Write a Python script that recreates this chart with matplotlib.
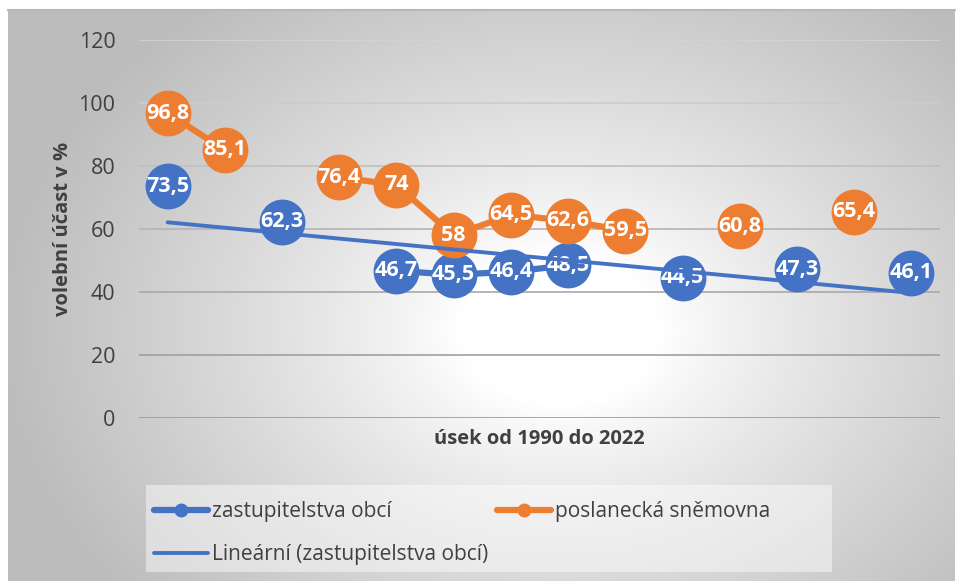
import numpy as np
import matplotlib
matplotlib.use("Agg")
import matplotlib.pyplot as plt
from matplotlib.lines import Line2D
from matplotlib.patches import Rectangle

# ---- data ----
positions = list(range(1, 15))
zastupitelstva = [73.5, None, 62.3, None, 46.7, 45.5, 46.4, 48.5, None, 44.5, None, 47.3, None, 46.1]
snemovna = [96.8, 85.1, None, 76.4, 74.0, 58.0, 64.5, 62.6, 59.5, None, 60.8, None, 65.4, None]
yticks = [0, 20, 40, 60, 80, 100, 120]
labels_blue = ["73,5", None, "62,3", None, "46,7", "45,5", "46,4", "48,5", None, "44,5", None, "47,3", None, "46,1"]
labels_orange = ["96,8", "85,1", None, "76,4", "74", "58", "64,5", "62,6", "59,5", None, "60,8", None, "65,4", None]
series_names = ["zastupitelstva obcí", "poslanecká sněmovna", "Lineární (zastupitelstva obcí)"]
xlabel = "úsek od 1990 do 2022"
ylabel = "volební účast v %"

BLUE = "#4472C4"
ORANGE = "#ED7D31"
TXT = "#404040"
FONT = ["Open Sans", "DejaVu Sans"]
plt.rcParams["font.family"] = FONT

W, H = 957, 581
fig = plt.figure(figsize=(W / 100, H / 100), dpi=100)
fig.patch.set_facecolor("white")

# ---- radial gradient background of chart area ----
bx0, by0, bx1, by1 = 8, 10, 955, 581
bg = fig.add_axes([bx0 / W, 1 - by1 / H, (bx1 - bx0) / W, (by1 - by0) / H])
bg.set_axis_off()
gx = np.linspace(bx0, bx1, 480)
gy = np.linspace(by0, by1, 300)
GX, GY = np.meshgrid(gx, gy)
cx, cy = 560, 330
r = np.sqrt(((GX - cx) / 560) ** 2 + ((GY - cy) / 420) ** 2)
v = 1.0 - 0.26 * np.clip((r - 0.18) / 0.82, 0, 1) ** 0.85
img = np.dstack([v, v, v])
bg.imshow(img, extent=[0, 1, 0, 1], aspect="auto", origin="upper")
bg.plot([0, 1], [1, 1], color="#b8b8b8", lw=1.5, transform=bg.transAxes, clip_on=False)

# ---- main axes ----
left, right, top, bottom = 139, 940, 40, 418
ax = fig.add_axes([left / W, 1 - bottom / H, (right - left) / W, (bottom - top) / H])
ax.patch.set_alpha(0)
ax.set_xlim(0.5, 14.5)
ax.set_ylim(0, 120)
for s in ax.spines.values():
    s.set_visible(False)
grid_cols = ["#999999", "#a0a0a0", "#a8a8a8", "#b4b4b4", "#c0c0c0", "#cccccc", "#d4d4d4"]
for yv, c in zip(yticks, grid_cols):
    ax.axhline(yv, color=c, lw=1.2, zorder=1)
ax.set_yticks(yticks)
ax.set_yticklabels([str(t) for t in yticks], fontsize=15.5, color=TXT)
ax.tick_params(axis="y", length=0, pad=17)
ax.set_xticks([])
ax.set_xlabel(xlabel, fontsize=14.5, fontweight="bold", color=TXT, labelpad=8)
ax.set_ylabel(ylabel, fontsize=14.5, fontweight="bold", color=TXT, labelpad=4)


def to_arr(vals):
    return np.array([np.nan if v is None else v for v in vals], dtype=float)


xs = np.array(positions, dtype=float)
yb = to_arr(zastupitelstva)
yo = to_arr(snemovna)

ax.plot(xs, yb, color=BLUE, lw=4.5, marker="o", markersize=32, zorder=3)
ax.plot(xs, yo, color=ORANGE, lw=4.5, marker="o", markersize=32, zorder=4)

for x, y, l in zip(xs, yb, labels_blue):
    if l is not None:
        ax.text(x, y, l, ha="center", va="center", color="white", fontsize=15.5,
                fontweight="bold", zorder=5)
for x, y, l in zip(xs, yo, labels_orange):
    if l is not None:
        ax.text(x, y, l, ha="center", va="center", color="white", fontsize=15.5,
                fontweight="bold", zorder=5)

mask = ~np.isnan(yb)
k, q = np.polyfit(xs[mask], yb[mask], 1)
xt = np.array([xs[mask].min(), xs[mask].max()])
ax.plot(xt, k * xt + q, color=BLUE, lw=2.8, zorder=6, solid_capstyle="round")

# ---- legend ----
lx0, ly0, lx1, ly1 = 146, 485, 832, 572
fig.patches.append(Rectangle((lx0 / W, 1 - ly1 / H), (lx1 - lx0) / W, (ly1 - ly0) / H,
                             transform=fig.transFigure, facecolor="white", alpha=0.45,
                             edgecolor="none", zorder=0))
h1 = Line2D([], [], color=BLUE, lw=4.5, marker="o", markersize=9, solid_capstyle="round")
h2 = Line2D([], [], color=ORANGE, lw=4.5, marker="o", markersize=9, solid_capstyle="round")
h3 = Line2D([], [], color=BLUE, lw=2.8, solid_capstyle="round")
leg = fig.legend([h1, h3, h2], [series_names[0], series_names[2], series_names[1]],
                 ncol=2, loc="upper left",
                 bbox_to_anchor=(154 / W, 1 - 501 / H),
                 fontsize=15, frameon=False,
                 handlelength=2.6, handletextpad=0.2, borderaxespad=0,
                 labelspacing=1.05, borderpad=0.0, columnspacing=0.4)
for t in leg.get_texts():
    t.set_color(TXT)

fig.savefig("out.png", dpi=100)
